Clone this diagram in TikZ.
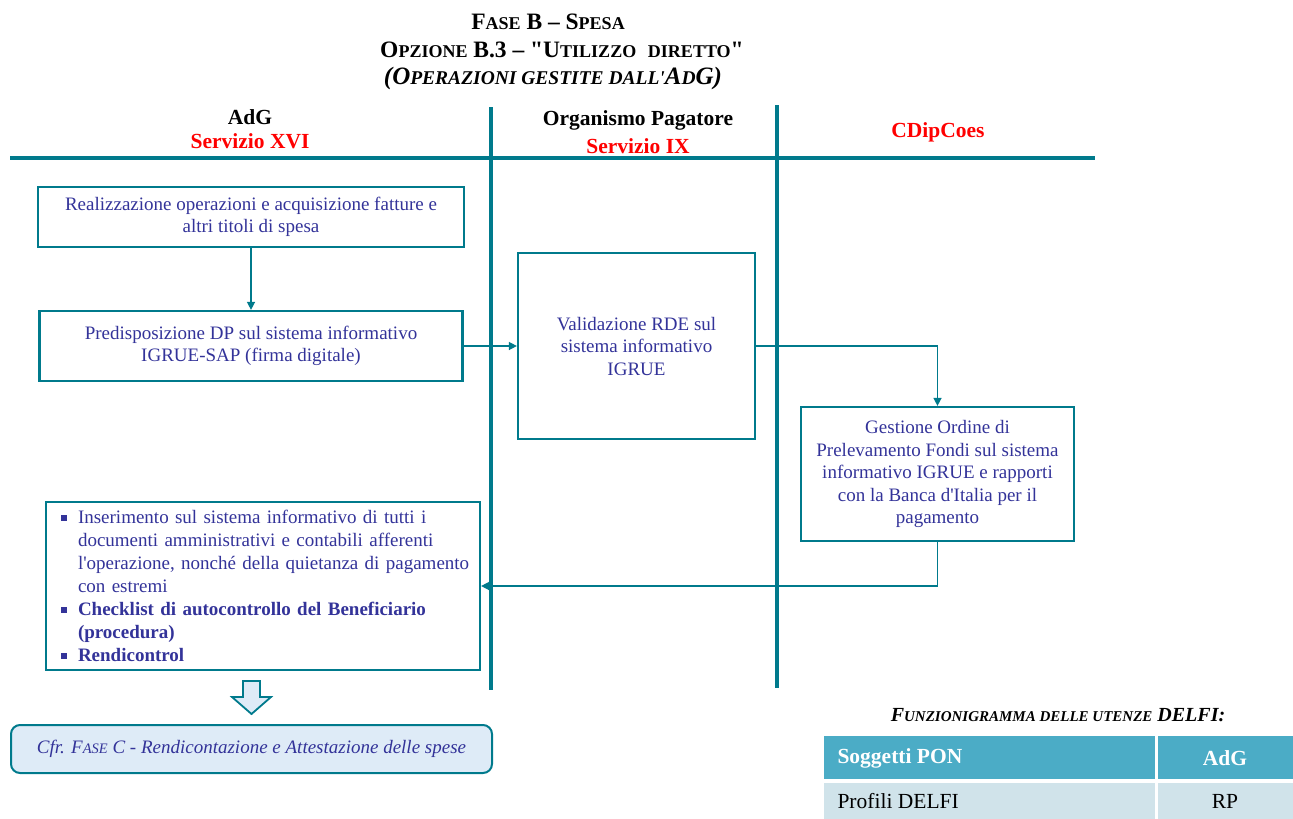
\documentclass[tikz,border=0pt]{standalone}
\usepackage{fontspec}
\setmainfont{Liberation Serif}[Ligatures=TeXOff]
\usetikzlibrary{arrows.meta}
\definecolor{teal1}{RGB}{0,122,140}
\definecolor{tblue}{RGB}{51,51,153}
\definecolor{redh}{RGB}{255,0,0}
\definecolor{hdrfill}{RGB}{75,172,198}
\definecolor{rowfill}{RGB}{208,227,234}
\definecolor{rbfill}{RGB}{222,235,247}
\newcommand\smc[1]{{\fontsize{18}{18}\selectfont #1}}
\newcommand\smi[1]{{\fontsize{19.5}{19.5}\selectfont #1}}
\newcommand\smt[1]{{\fontsize{15}{15}\selectfont #1}}
\newcommand\smr[1]{{\fontsize{14.5}{14.5}\selectfont #1}}
\newcommand\itm[1]{\hangindent=17pt\hangafter=1\noindent\makebox[17pt][l]{\raisebox{0.35ex}{\rule{5.5pt}{5.5pt}}}#1\par}
\tikzset{
  box/.style={draw=teal1, line width=2.2pt, inner sep=0pt, align=center, text=tblue,
    font=\fontsize{19}{22.5}\selectfont},
  arr/.style={draw=teal1, line width=1.4pt, -{Triangle[length=8pt,width=8pt]}},
  lane/.style={draw=teal1, line width=3.5pt},
  hdr/.style={font=\fontsize{21.5}{24}\selectfont\bfseries, align=center},
  ttl/.style={font=\fontsize{23.5}{28}\selectfont\bfseries, align=center},
}
\begin{document}
\begin{tikzpicture}[x=1pt,y=-1pt]
\useasboundingbox (0,0) rectangle (1293,819);
% titles
\node[ttl] (t1) at (548,22) {F\smc{ASE} B – S\smc{PESA}};
\node[ttl] (t2) at (562,50) {O\smc{PZIONE} B.3 – "U\smc{TILIZZO}\ \ \smc{DIRETTO}"};
\node[ttl, font=\fontsize{25}{28}\selectfont\bfseries\itshape] (t3) at (553,78) {(O\smi{PERAZIONI GESTITE DALL'}A\smi{D}G)};
% lanes
\coordinate (hl) at (10,158); \coordinate (hr) at (1095,158);
\coordinate (v1t) at (491,107); \coordinate (v1b) at (491,690);
\coordinate (v2t) at (777,105); \coordinate (v2b) at (777,688);
\draw[lane] (hl) -- (hr);
\draw[lane] (v1t) -- (v1b);
\draw[lane] (v2t) -- (v2b);
% headers
\node[hdr] (h1) at (250,117) {AdG};
\node[hdr, text=redh] (h1b) at (250,141) {Servizio XVI};
\node[hdr] (h2) at (638,120) {Organismo Pagatore};
\node[hdr, text=redh] (h2b) at (638,146) {Servizio IX};
\node[hdr, text=redh] (h3) at (938,132) {CDipCoes};
% boxes
\node[box, minimum width=426pt, minimum height=60pt] (b1) at (251,217)
  {Realizzazione operazioni e acquisizione fatture e\\altri titoli di spesa};
\node[box, minimum width=423pt, minimum height=70pt] (b2) at (251,346)
  {Predisposizione DP sul sistema informativo\\IGRUE-SAP (firma digitale)};
\node[box, minimum width=237pt, minimum height=186pt] (b3) at (636.5,346)
  {Validazione RDE sul\\sistema informativo\\IGRUE};
\node[box, minimum width=273pt, minimum height=134pt] (b4) at (937.5,474)
  {Gestione Ordine di\\Prelevamento Fondi sul sistema\\informativo IGRUE e rapporti\\con la Banca d'Italia per il\\pagamento};
\node[box, minimum width=434pt, minimum height=168pt, text width=434pt,
  font=\fontsize{19}{23}\selectfont] (b5) at (263,586)
  {\raggedright\leftskip=15pt
   \itm{Inserimento sul sistema informativo di tutti i\newline documenti amministrativi e contabili afferenti\newline l'operazione, nonché della quietanza di pagamento\newline con estremi}
   \itm{\textbf{Checklist di autocontrollo del Beneficiario}\newline\textbf{(procedura)}}
   \itm{\textbf{Rendicontrol}}};
% connectors
\draw[arr] (b1.south) -- (b2.north);
\draw[arr] (b2.east) -- (b3.west);
\draw[arr] (b3.east) -| (b4.north);
\draw[arr] (b4.south) |- (b5.east);
% block arrow
\draw[draw=teal1, line width=1.8pt, fill=rbfill, line join=miter]
  (243,681) -- (260,681) -- (260,697) -- (271,697) -- (251.5,714) -- (232,697) -- (243,697) -- cycle;
% rounded box
\node[draw=teal1, line width=2pt, fill=rbfill, rounded corners=9pt, minimum width=481pt,
  minimum height=48pt, text=tblue, font=\fontsize{19}{22}\selectfont\itshape] (rb) at (251.5,749)
  {Cfr. F\smr{ASE} C - Rendicontazione e Attestazione delle spese};
% table
\node[font=\fontsize{20}{24}\selectfont\bfseries\itshape] (tt) at (1058,715)
  {F\smt{UNZIONIGRAMMA DELLE UTENZE} DELFI:};
\fill[hdrfill] (824,736) rectangle (1155,779);
\fill[hdrfill] (1158,736) rectangle (1293,779);
\fill[rowfill] (824,783) rectangle (1155,819);
\fill[rowfill] (1158,783) rectangle (1293,819);
\node[anchor=west, text=white, font=\fontsize{21.5}{24}\selectfont\bfseries] (c11) at (834,758) {Soggetti PON};
\node[text=white, font=\fontsize{21.5}{24}\selectfont\bfseries] (c12) at (1225,758) {AdG};
\node[anchor=west, font=\fontsize{21.5}{24}\selectfont] (c21) at (834,801) {Profili DELFI};
\node[font=\fontsize{21.5}{24}\selectfont] (c22) at (1225,801) {RP};
\end{tikzpicture}
\end{document}
